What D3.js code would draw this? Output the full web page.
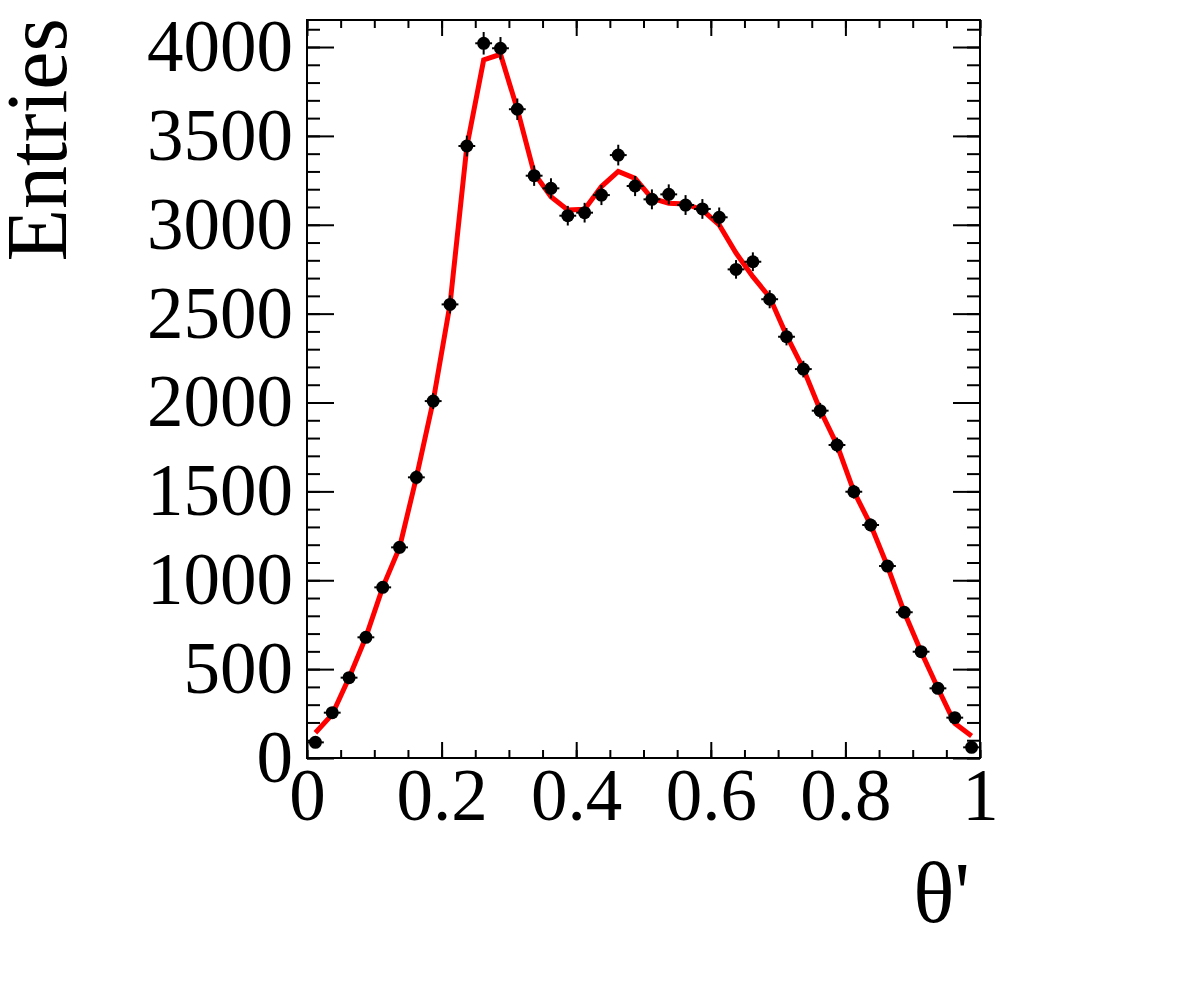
<!DOCTYPE html>
<html>
<head>
<meta charset="utf-8">
<script src="https://cdn.jsdelivr.net/npm/d3@7"></script>
<style>
  body { margin: 0; background: #fff; }
  svg { display: block; }
  text { font-family: "Liberation Serif", "Times New Roman", serif; }
</style>
</head>
<body>
<script>
// 40 bins of theta' in [0,1]
var binEdges = [0, 1];
var nBins = 40;

// data entries per bin
var entries = [88, 255, 452, 679, 960, 1185, 1579, 2008, 2552, 3443,
               4021, 3993, 3650, 3276, 3205, 3051, 3068, 3167, 3392, 3218,
               3143, 3171, 3111, 3089, 3042, 2749, 2792, 2581, 2370, 2188,
               1954, 1761, 1498, 1311, 1080, 820, 598, 392, 227, 60];

// fit / model curve evaluated at bin centres
var model = [142, 245, 452, 680, 960, 1185, 1578, 2008, 2552, 3440,
             3927, 3959, 3650, 3290, 3158, 3083, 3087, 3215, 3300, 3261,
             3149, 3121, 3117, 3083, 2999, 2841, 2708, 2592, 2378, 2190,
             1958, 1762, 1500, 1312, 1080, 820, 598, 392, 195, 124];

var xMajor = [0, 0.2, 0.4, 0.6, 0.8, 1];
var xMinor = d3.range(0, 1.0001, 0.05);
var yMajor = [0, 500, 1000, 1500, 2000, 2500, 3000, 3500, 4000];
var yMinor = d3.range(0, 4101, 100);
var yMax = 4152;

var margin = {top: 20, right: 202, bottom: 228, left: 307},
    width = 1182 - margin.left - margin.right,
    height = 986 - margin.top - margin.bottom;

var binW = (binEdges[1] - binEdges[0]) / nBins;
var centres = d3.range(nBins).map(function(i) { return binEdges[0] + (i + 0.5) * binW; });

var x = d3.scaleLinear().domain(binEdges).range([0, width]);
var y = d3.scaleLinear().domain([0, yMax]).range([height, 0]);

var svg = d3.select("body").append("svg")
    .attr("width", 1182)
    .attr("height", 986);

var g = svg.append("g")
    .attr("transform", "translate(" + margin.left + "," + margin.top + ")");

function styleAxis(sel) {
  sel.select(".domain").remove();
  sel.selectAll("line").attr("stroke", "#000").attr("stroke-width", 2);
  sel.selectAll("text").attr("fill", "#000").style("font-size", "73px");
}

// minor ticks
g.append("g").attr("transform", "translate(0," + height + ")")
    .call(d3.axisBottom(x).tickValues(xMinor).tickSize(-8).tickFormat(""))
    .call(styleAxis);
g.append("g")
    .call(d3.axisTop(x).tickValues(xMinor).tickSize(-8).tickFormat(""))
    .call(styleAxis);
g.append("g")
    .call(d3.axisLeft(y).tickValues(yMinor).tickSize(-13).tickFormat(""))
    .call(styleAxis);
g.append("g").attr("transform", "translate(" + width + ",0)")
    .call(d3.axisRight(y).tickValues(yMinor).tickSize(-13).tickFormat(""))
    .call(styleAxis);

// major ticks + labels
g.append("g").attr("transform", "translate(0," + height + ")")
    .call(d3.axisBottom(x).tickValues(xMajor).tickSize(-16).tickPadding(10)
      .tickFormat(function(d) { return d3.format("")(+d.toFixed(1)); }))
    .call(styleAxis);
g.append("g")
    .call(d3.axisTop(x).tickValues(xMajor).tickSize(-16).tickFormat(""))
    .call(styleAxis);
g.append("g")
    .call(d3.axisLeft(y).tickValues(yMajor).tickSize(-27).tickPadding(14).tickFormat(d3.format("d")))
    .call(styleAxis);
g.append("g").attr("transform", "translate(" + width + ",0)")
    .call(d3.axisRight(y).tickValues(yMajor).tickSize(-27).tickFormat(""))
    .call(styleAxis);

// frame
g.append("rect")
    .attr("width", width)
    .attr("height", height)
    .attr("fill", "none")
    .attr("stroke", "#000")
    .attr("stroke-width", 2);

// model line
var line = d3.line()
    .x(function(d, i) { return x(centres[i]); })
    .y(function(d) { return y(d); });

g.append("path")
    .datum(model)
    .attr("d", line)
    .attr("fill", "none")
    .attr("stroke", "#ff0000")
    .attr("stroke-width", 5)
    .attr("stroke-linejoin", "miter");

// data points with errors
var pts = g.append("g").selectAll("g")
    .data(entries)
    .join("g");

pts.append("line")
    .attr("x1", function(d, i) { return x(centres[i] - binW / 2); })
    .attr("x2", function(d, i) { return x(centres[i] + binW / 2); })
    .attr("y1", function(d) { return y(d); })
    .attr("y2", function(d) { return y(d); })
    .attr("stroke", "#000")
    .attr("stroke-width", 2);

pts.append("line")
    .attr("x1", function(d, i) { return x(centres[i]); })
    .attr("x2", function(d, i) { return x(centres[i]); })
    .attr("y1", function(d) { return y(d - Math.sqrt(d)); })
    .attr("y2", function(d) { return y(d + Math.sqrt(d)); })
    .attr("stroke", "#000")
    .attr("stroke-width", 2);

pts.append("circle")
    .attr("cx", function(d, i) { return x(centres[i]); })
    .attr("cy", function(d) { return y(d); })
    .attr("r", 6.5)
    .attr("fill", "#000");

// axis titles
svg.append("text")
    .attr("transform", "translate(66,18) rotate(-90)")
    .attr("text-anchor", "end")
    .style("font-size", "86px")
    .text("Entries");

svg.append("text")
    .attr("x", 970)
    .attr("y", 922)
    .attr("text-anchor", "end")
    .style("font-size", "86px")
    .text("θ'");
</script>
</body>
</html>
